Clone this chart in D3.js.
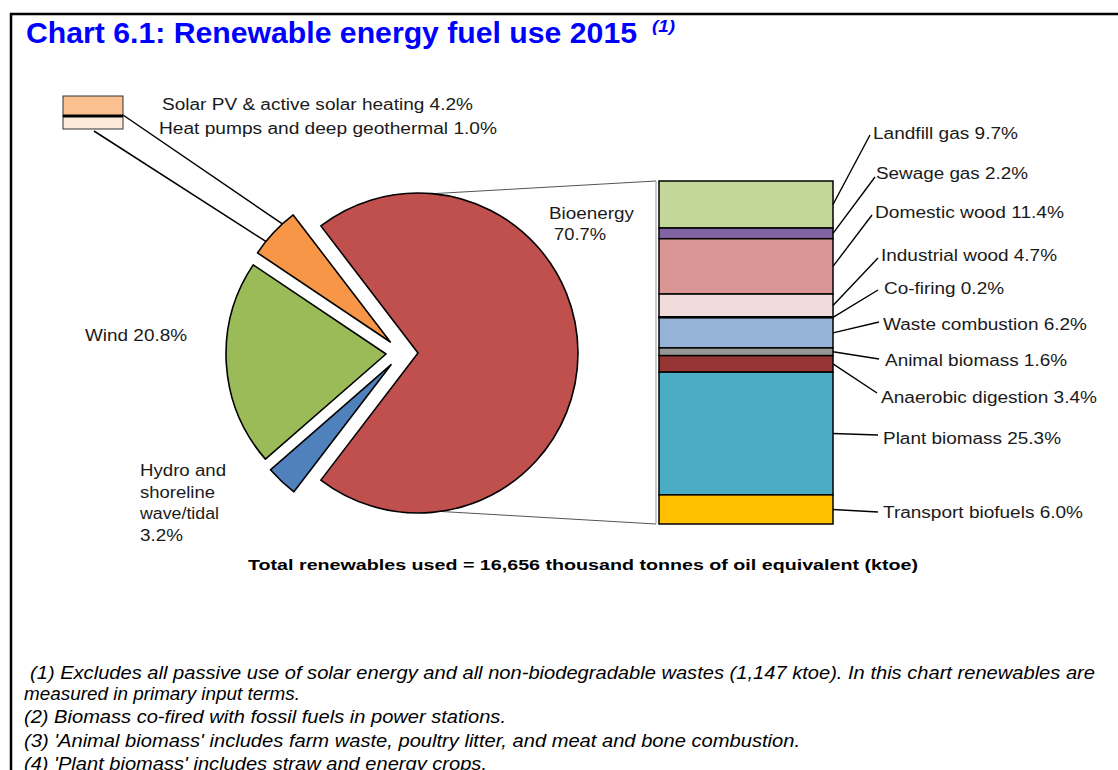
<!DOCTYPE html>
<html>
<head>
<meta charset="utf-8">
<script src="https://cdn.jsdelivr.net/npm/d3@7"></script>
<style>
  html, body { margin: 0; padding: 0; background: #ffffff; }
  svg { display: block; }
  text { font-family: "Liberation Sans", Arial, sans-serif; }
</style>
</head>
<body>
<script>
// ---- Data -------------------------------------------------------------
const pieCategories = ["Bioenergy", "Hydro and shoreline wave/tidal", "Wind", "Solar PV & heat pumps"];
const heatCategories = ["Solar PV & active solar heating", "Heat pumps and deep geothermal "];
const heatValues = [4.2, 1.0];
const pieValues = [70.7, 3.2, 20.8, d3.sum(heatValues)];
const pieColors = ["#C0504D", "#4F81BD", "#9BBB59", "#F79646"];
const heatColors = ["#FAC090", "#FDE9D9"];

const bioCategories = ["Landfill gas", "Sewage gas", "Domestic wood", "Industrial wood", "Co-firing",
  "Waste combustion", "Animal biomass", "Anaerobic digestion", "Plant biomass", "Transport biofuels"];
const bioValues = [9.7, 2.2, 11.4, 4.7, 0.2, 6.2, 1.6, 3.4, 25.3, 6.0];
const bioColors = ["#C4D79B", "#8064A2", "#DA9694", "#F2DCDB", "#1F1F1F",
  "#95B3D7", "#969696", "#963634", "#4BACC6", "#FFC000"];

const totalKtoe = "16,656";

// ---- Layout -----------------------------------------------------------
const W = 1118, H = 770;
const cx = 402, cy = 353, R = 160, explode = 16;
const barX0 = 659, barX1 = 833, barTop = 181, barBottom = 524;
// label placement for the stacked bar: [leader end x, leader end y, text x0, text x1, text centre y]
const barLabelLayout = [
  [870, 135, 873, 1018, 133],
  [875, 177, 876, 1028, 173],
  [872, 215, 875, 1064, 212],
  [878, 258, 881, 1057, 255],
  [878, 290, 884, 1004, 288],
  [879, 322, 883, 1087, 324],
  [879, 359, 885, 1067, 360],
  [877, 393, 881, 1097, 397],
  [878, 435, 883, 1061, 438],
  [878, 512, 883, 1083, 512]
];

const svg = d3.select("body").append("svg").attr("width", W).attr("height", H);

function fit(sel, x0, x1) {
  return sel.attr("x", x0).attr("textLength", x1 - x0).attr("lengthAdjust", "spacingAndGlyphs");
}
function label(x0, x1, yc, str, size, opts = {}) {
  const t = svg.append("text")
    .attr("y", yc + size * 0.36)
    .attr("font-size", size)
    .attr("fill", opts.fill || "#1a1a1a")
    .attr("font-weight", opts.weight || "normal")
    .attr("font-style", opts.style || "normal")
    .text(str);
  return fit(t, x0, x1);
}

// ---- Frame ------------------------------------------------------------
svg.append("line").attr("x1", 10).attr("x2", W).attr("y1", 14).attr("y2", 14)
  .attr("stroke", "#000").attr("stroke-width", 2.5);
svg.append("line").attr("x1", 11).attr("x2", 11).attr("y1", 13).attr("y2", H)
  .attr("stroke", "#000").attr("stroke-width", 2.5);

// ---- Title ------------------------------------------------------------
fit(svg.append("text").attr("y", 43).attr("font-size", 30).attr("font-weight", "bold")
  .attr("fill", "#0000FF").text("Chart 6.1:  Renewable energy fuel use 2015"), 26, 637);
fit(svg.append("text").attr("y", 32).attr("font-size", 17).attr("font-weight", "bold")
  .attr("font-style", "italic").attr("fill", "#0000FF").text("(1)"), 652, 675);

// ---- Pie --------------------------------------------------------------
const bioShare = pieValues[0] / d3.sum(pieValues);
const start = Math.PI / 2 - bioShare * Math.PI;
const pie = d3.pie().sort(null).value(d => d).startAngle(start).endAngle(start + 2 * Math.PI);
const arcs = pie(pieValues);
const arc = d3.arc().innerRadius(0).outerRadius(R);
const offset = a => {
  const m = (a.startAngle + a.endAngle) / 2;
  return [cx + explode * Math.sin(m), cy - explode * Math.cos(m)];
};
const onArc = (a, t) => {
  const o = offset(a);
  const ang = a.startAngle + t * (a.endAngle - a.startAngle);
  return [o[0] + R * Math.sin(ang), o[1] - R * Math.cos(ang)];
};

// connectors from the bioenergy slice to the stacked bar
const bio = arcs[0];
const bo = offset(bio);
const topAnchor = [bo[0] + R * Math.sin(5.3 * Math.PI / 180), bo[1] - R * Math.cos(5.3 * Math.PI / 180)];
const botAnchor = [bo[0] + R * Math.sin(172 * Math.PI / 180), bo[1] - R * Math.cos(172 * Math.PI / 180)];
const conn = svg.append("g").attr("stroke", "#555").attr("stroke-width", 1).attr("fill", "none");
conn.append("line").attr("x1", topAnchor[0]).attr("y1", topAnchor[1]).attr("x2", barX0 - 3).attr("y2", barTop);
conn.append("line").attr("x1", botAnchor[0]).attr("y1", botAnchor[1]).attr("x2", barX0 - 3).attr("y2", barBottom);
conn.append("line").attr("x1", barX0 - 3).attr("y1", barTop).attr("x2", barX0 - 3).attr("y2", barBottom)
  .attr("stroke", "#999");

// connectors from the solar / heat pump slice to its breakdown box
const solar = arcs[3];
const pUp = onArc(solar, 0.73), pLow = onArc(solar, 0.27);
const boxX = 63, boxW = 60, boxY = 96, boxH = [20, 13];
svg.append("line").attr("x1", boxX + boxW).attr("y1", boxY + boxH[0] - 1).attr("x2", pUp[0]).attr("y2", pUp[1])
  .attr("stroke", "#000").attr("stroke-width", 1.5);
svg.append("line").attr("x1", boxX + 31).attr("y1", boxY + boxH[0] + boxH[1] + 2).attr("x2", pLow[0]).attr("y2", pLow[1])
  .attr("stroke", "#000").attr("stroke-width", 1.5);

svg.append("g").selectAll("path").data(arcs).join("path")
  .attr("transform", d => `translate(${offset(d)})`)
  .attr("d", arc)
  .attr("fill", (d, i) => pieColors[i])
  .attr("stroke", "#000").attr("stroke-width", 1.6).attr("stroke-linejoin", "round");

// breakdown box for solar and heat pumps
let by = boxY;
heatValues.forEach((v, i) => {
  svg.append("rect").attr("x", boxX).attr("y", by).attr("width", boxW).attr("height", boxH[i])
    .attr("fill", heatColors[i]).attr("stroke", "#333").attr("stroke-width", 1);
  by += boxH[i];
});
svg.append("line").attr("x1", boxX).attr("x2", boxX + boxW).attr("y1", boxY + boxH[0]).attr("y2", boxY + boxH[0])
  .attr("stroke", "#000").attr("stroke-width", 3);

label(162, 473, 104, `${heatCategories[0]} ${heatValues[0].toFixed(1)}%`, 16);
label(159, 497, 128, `${heatCategories[1]} ${heatValues[1].toFixed(1)}%`, 16);

// pie labels
label(549, 634, 213, "Bioenergy", 16);
label(554, 606, 234, `${pieValues[0].toFixed(1)}%`, 16);
label(85, 187, 335, `Wind ${pieValues[2].toFixed(1)}%`, 16);
label(140, 226, 470, "Hydro and", 16);
label(140, 215, 492, "shoreline", 16);
label(140, 219, 513, "wave/tidal", 16);
label(140, 183, 535, `${pieValues[1].toFixed(1)}%`, 16);

// ---- Stacked bar of bioenergy ------------------------------------------
const y = d3.scaleLinear().domain([0, d3.sum(bioValues)]).range([barTop, barBottom]);
const cum = d3.cumsum(bioValues);
const segs = bioValues.map((v, i) => ({ v, i, y0: cum[i] - v, y1: cum[i] }));

svg.append("g").selectAll("rect").data(segs).join("rect")
  .attr("x", barX0).attr("width", barX1 - barX0)
  .attr("y", d => y(d.y0)).attr("height", d => y(d.y1) - y(d.y0))
  .attr("fill", d => bioColors[d.i])
  .attr("stroke", "#000").attr("stroke-width", 1.5);

// leader lines and labels
const lead = svg.append("g").attr("stroke", "#000").attr("stroke-width", 1.4);
segs.forEach(d => {
  const L = barLabelLayout[d.i];
  const ym = y((d.y0 + d.y1) / 2);
  lead.append("line").attr("x1", barX1).attr("y1", ym).attr("x2", L[0]).attr("y2", L[1]);
  label(L[2], L[3], L[4], `${bioCategories[d.i]} ${d.v.toFixed(1)}%`, 16);
});

// ---- Total and footnotes ------------------------------------------------
label(248, 918, 565, `Total renewables  used = ${totalKtoe} thousand  tonnes of oil equivalent  (ktoe)`, 15,
  { weight: "bold", fill: "#000" });

const notes = [
  [" (1) Excludes all passive use of solar energy and all non-biodegradable wastes (1,147 ktoe). In this chart renewables are", 30, 1095, 673],
  ["measured in primary input terms.", 24, 300, 694],
  ["(2) Biomass co-fired with fossil fuels in power stations.", 24, 506, 717],
  ["(3) 'Animal biomass' includes farm waste, poultry litter, and meat and bone combustion.", 24, 800, 741],
  ["(4) 'Plant biomass' includes straw and energy crops.", 24, 487, 764]
];
notes.forEach(n => label(n[1], n[2], n[3], n[0], 18, { style: "italic", fill: "#000" }));
</script>
</body>
</html>
